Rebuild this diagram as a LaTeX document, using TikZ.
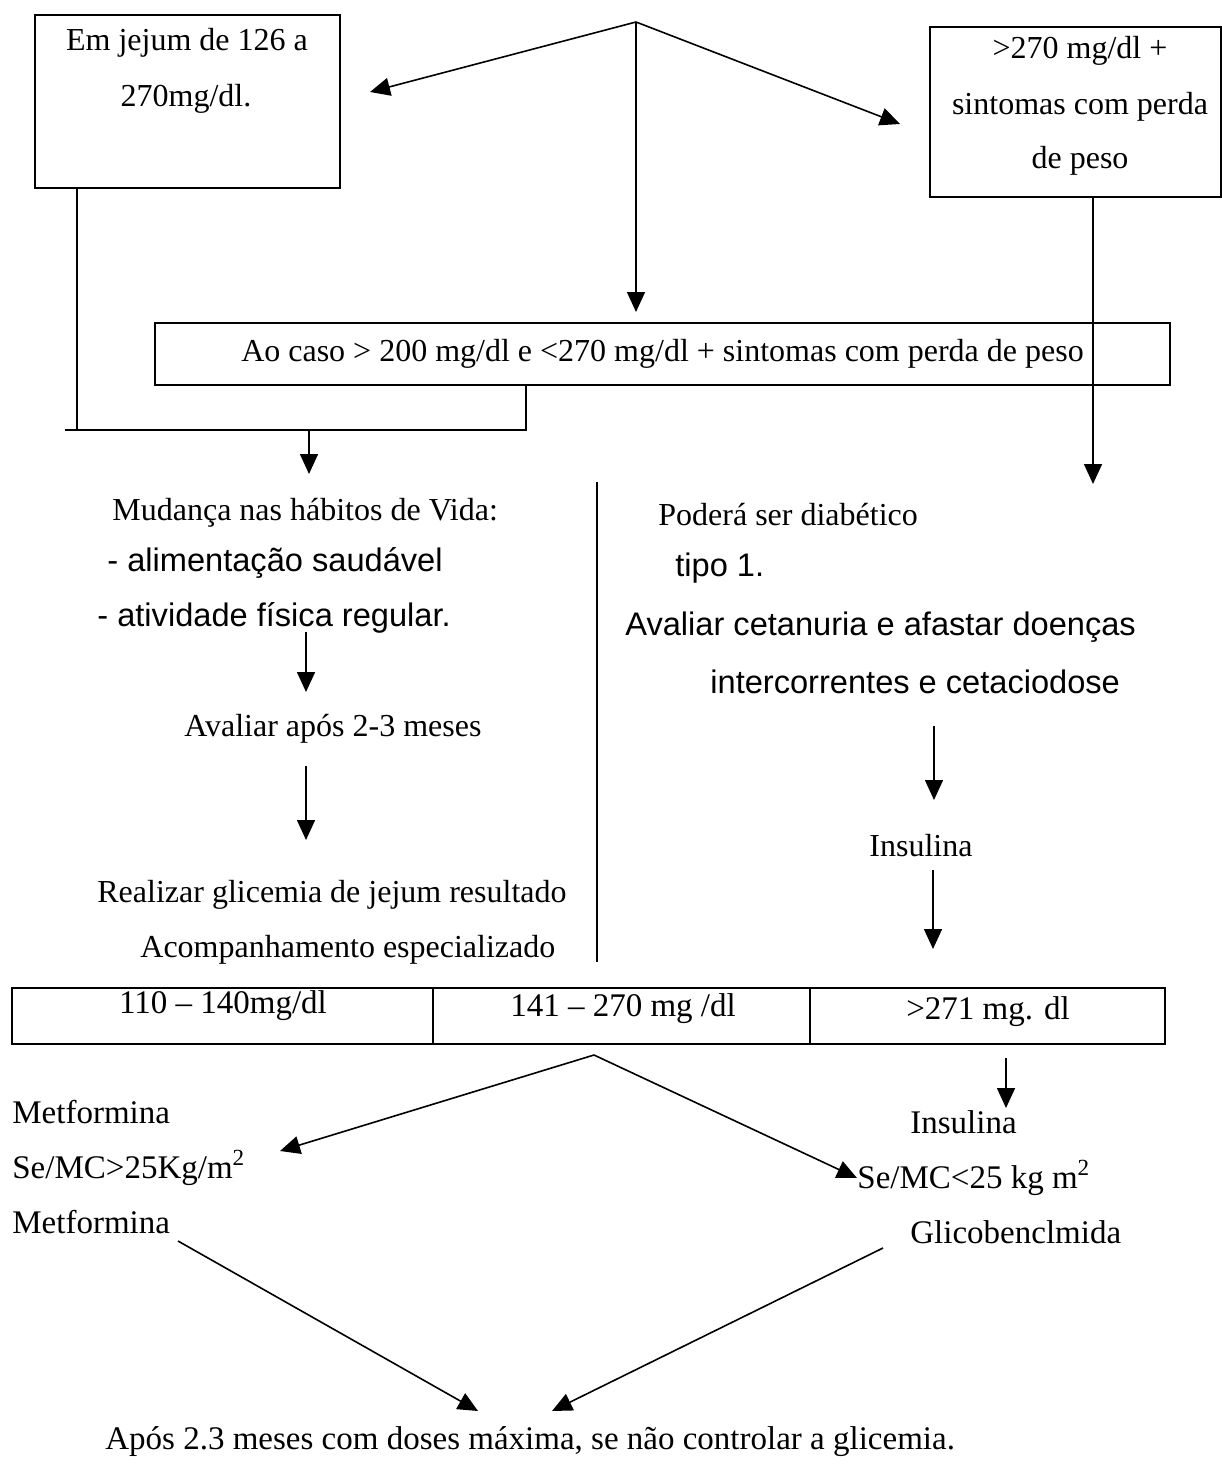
\documentclass[tikz,border=0pt]{standalone}
\usepackage{fontspec}
\setmainfont{Liberation Serif}
\newfontfamily\sansf{Liberation Sans}
\usetikzlibrary{arrows.meta}
\tikzset{
  box/.style={draw, line width=0.8pt, inner sep=0pt},
  ln/.style={line width=0.8pt},
  arr/.style={line width=0.8pt, -{Triangle[length=10pt,width=9pt]}},
  txt/.style={font=\fontsize{16}{19}\selectfont, inner sep=0pt},
  btxt/.style={font=\fontsize{16.5}{19}\selectfont, inner sep=0pt},
  stxt/.style={font=\sansf\fontsize{16.3}{19}\selectfont, inner sep=0pt},
}
\begin{document}
\begin{tikzpicture}[x=0.5pt,y=-0.5pt]
\useasboundingbox (0,0) rectangle (1221,1466);
% top boxes
\node[box, minimum width=152.5pt, minimum height=86.5pt] (lbox) at (187.5,101.5) {};
\node[txt] (l1) at (187,43) {Em jejum de 126 a};
\node[txt] (l2) at (186,99) {270mg/dl.};
\node[box, minimum width=145.5pt, minimum height=85pt] (rbox) at (1075.75,112) {};
\node[txt] (r1) at (1080,51) {>270 mg/dl +};
\node[txt] (r2) at (1080,107) {sintomas com perda};
\node[txt] (r3) at (1080,161) {de peso};
\node[box, txt, minimum width=507.5pt, minimum height=31pt] (mbox) at (662.5,354) {Ao caso > 200 mg/dl e <270 mg/dl + sintomas com perda de peso};
% apex arrows
\coordinate (apex) at (636,22);
\coordinate (tl) at (370,92);
\coordinate (tr) at (900,124);
\coordinate (tm) at (636,312);
\draw[arr] (apex) -- (tl);
\draw[arr] (apex) -- (tr);
\draw[arr] (apex) -- (tm);
% junction under left box and middle box
\coordinate (jl) at (65,430);
\coordinate (jv) at (77,430);
\coordinate (jr) at (526,430);
\coordinate (ja) at (309,430);
\coordinate (ma) at (309,474);
\draw[ln] (jv |- lbox.south) -- (jv);
\draw[ln] (jl) -- (jr) -- (jr |- mbox.south);
\draw[arr] (ja) -- (ma);
% right vertical
\coordinate (rv) at (1093,484);
\draw[arr] (rv |- rbox.south) -- (rv);
% left column
\node[txt, anchor=west] (m1) at (112,513) {Mudança nas hábitos de Vida:};
\node[stxt, anchor=west] (m2) at (107,563) {- alimentação saudável};
\node[stxt, anchor=west] (m3) at (97,618) {- atividade física regular.};
\coordinate (a1s) at (306,632);
\coordinate (a1e) at (306,692);
\draw[arr] (a1s) -- (a1e);
\node[txt, anchor=west] (av) at (184,729) {Avaliar após 2-3 meses};
\coordinate (a2s) at (306,766);
\coordinate (a2e) at (306,840);
\draw[arr] (a2s) -- (a2e);
\node[txt, anchor=west] (re) at (97,895) {Realizar glicemia de jejum resultado};
\node[txt, anchor=west] (ac) at (140,950) {Acompanhamento especializado};
% divider
\coordinate (d1) at (597,482);
\coordinate (d2) at (597,962);
\draw[ln] (d1) -- (d2);
% right column
\node[txt, anchor=west] (p1) at (658,515) {Poderá ser diabético};
\node[stxt, anchor=west] (p2) at (675,568) {tipo 1.};
\node[stxt, anchor=west] (p3) at (625,627) {Avaliar cetanuria e afastar doenças};
\node[stxt, anchor=west] (p4) at (710,682) {intercorrentes e cetaciodose};
\coordinate (b1s) at (934,726);
\coordinate (b1e) at (934,800);
\draw[arr] (b1s) -- (b1e);
\node[txt] (ins1) at (921,846) {Insulina};
\coordinate (b2s) at (933,870);
\coordinate (b2e) at (933,949);
\draw[arr] (b2s) -- (b2e);
% table
\node[box, minimum width=210.5pt, minimum height=28pt] (c1) at (222.5,1016) {};
\node[box, minimum width=188.5pt, minimum height=28pt] (c2) at (621.5,1016) {};
\node[box, minimum width=177.5pt, minimum height=28pt] (c3) at (987.5,1016) {};
\node[btxt] (c1t) at (223,1006) {110 – 140mg/dl};
\node[btxt] (c2t) at (623,1009) {141 – 270 mg /dl};
\node[btxt] (c3t) at (988,1012) {>271 mg. dl};
% lower arrows
\coordinate (apex2) at (594,1055);
\coordinate (lt) at (280,1151);
\coordinate (rt) at (857,1178);
\draw[arr] (apex2) -- (lt);
\draw[arr] (apex2) -- (rt);
\coordinate (i2s) at (1006,1058);
\coordinate (i2e) at (1006,1108);
\draw[arr] (i2s) -- (i2e);
\node[btxt, anchor=west] (mf1) at (12,1112) {Metformina};
\node[btxt, anchor=west] (mf2) at (12,1168) {Se/MC>25Kg/m\textsuperscript{2}};
\node[btxt, anchor=west] (mf3) at (12,1222) {Metformina};
\node[btxt, anchor=west] (in2) at (910,1122) {Insulina};
\node[btxt, anchor=west] (se2) at (857,1178) {Se/MC<25 kg m\textsuperscript{2}};
\node[btxt, anchor=west] (gl) at (910,1232) {Glicobenclmida};
\coordinate (f1s) at (178,1241);
\coordinate (f1e) at (478,1411);
\coordinate (f2s) at (883,1248);
\coordinate (f2e) at (552,1411);
\draw[arr] (f1s) -- (f1e);
\draw[arr] (f2s) -- (f2e);
\node[btxt, anchor=west] (fin) at (105,1442) {Após 2.3 meses com doses máxima, se não controlar a glicemia.};
\end{tikzpicture}
\end{document}
